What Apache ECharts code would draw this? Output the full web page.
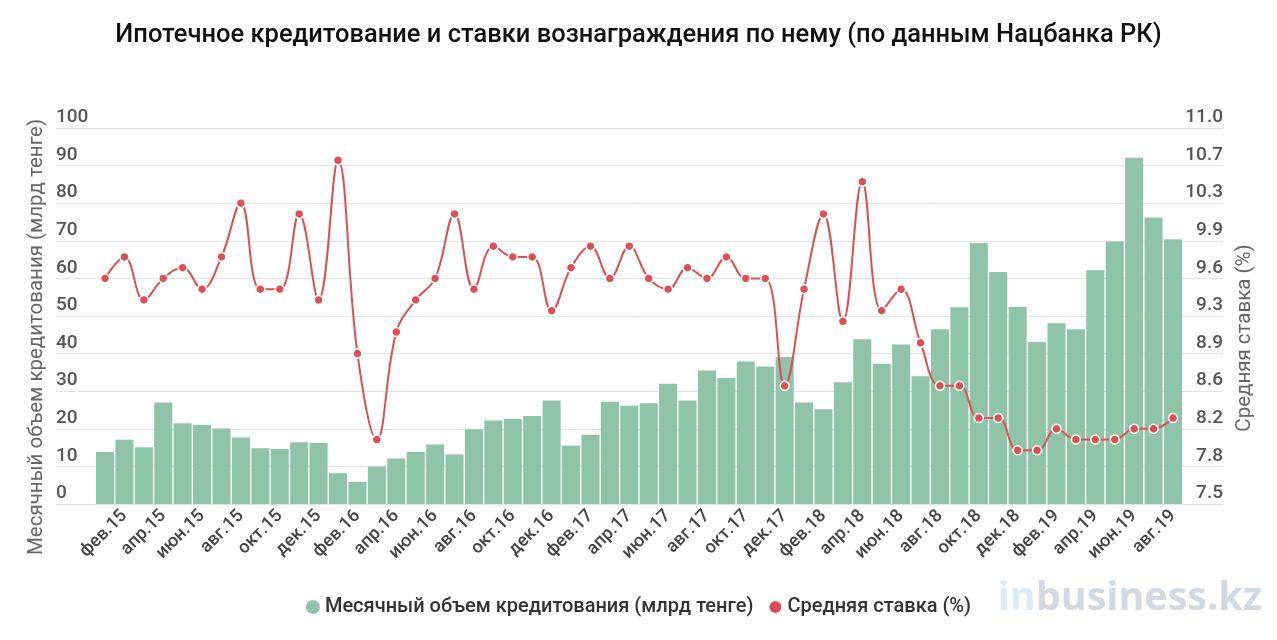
<!DOCTYPE html>
<html>
<head>
<meta charset="utf-8">
<script src="https://cdn.jsdelivr.net/npm/echarts@6/dist/echarts.min.js"></script>
<style>html,body{margin:0;padding:0;background:#fff}#c{width:1277px;height:640px}</style>
</head>
<body>
<div id="c"></div>
<script>
var categories = [
 'янв.15','фев.15','мар.15','апр.15','май.15','июн.15','июл.15','авг.15','сен.15','окт.15','ноя.15','дек.15',
 'янв.16','фев.16','мар.16','апр.16','май.16','июн.16','июл.16','авг.16','сен.16','окт.16','ноя.16','дек.16',
 'янв.17','фев.17','мар.17','апр.17','май.17','июн.17','июл.17','авг.17','сен.17','окт.17','ноя.17','дек.17',
 'янв.18','фев.18','мар.18','апр.18','май.18','июн.18','июл.18','авг.18','сен.18','окт.18','ноя.18','дек.18',
 'янв.19','фев.19','мар.19','апр.19','май.19','июн.19','июл.19','авг.19'
];
var volume = [
 13.8,17.1,15.1,27.0,21.5,21.0,20.1,17.7,14.8,14.6,16.4,16.2,
 8.2,5.9,10.0,12.1,13.8,15.8,13.2,19.9,22.2,22.6,23.4,27.5,
 15.5,18.4,27.2,26.1,26.8,32.0,27.5,35.5,33.5,37.9,36.6,39.1,
 27.0,25.2,32.4,43.8,37.3,42.4,34.0,46.5,52.3,69.4,61.7,52.4,
 43.1,48.1,46.5,62.2,69.8,92.1,76.2,70.4
];
var rate = [
 9.6,9.8,9.4,9.6,9.7,9.5,9.8,10.3,9.5,9.5,10.2,9.4,
 10.7,8.9,8.1,9.1,9.4,9.6,10.2,9.5,9.9,9.8,9.8,9.3,
 9.7,9.9,9.6,9.9,9.6,9.5,9.7,9.6,9.8,9.6,9.6,8.6,
 9.5,10.2,9.2,10.5,9.3,9.5,9.0,8.6,8.6,8.3,8.3,8.0,
 8.0,8.2,8.1,8.1,8.1,8.2,8.2,8.3
];
var rateTickLabels = ['7.5','7.8','8.2','8.6','8.9','9.3','9.6','9.9','10.3','10.7','11.0'];
var volumeName = 'Месячный объем кредитования (млрд тенге)';
var rateName = 'Средняя ставка (%)';
var titleText = 'Ипотечное кредитование и ставки вознаграждения по нему (по данным Нацбанка РК)';

var FONT = 'Roboto, "Noto Sans", sans-serif';
var chart = echarts.init(document.getElementById('c'), null, {renderer: 'canvas'});
var option = {
  backgroundColor: '#fff',
  animation: false,
  title: {
    text: titleText, left: 'center', top: 18,
    textStyle: {fontFamily: FONT, fontSize: 25.5, fontWeight: 500, color: '#111'}
  },
  legend: {
    bottom: 18, left: 'center', itemGap: 14,
    icon: 'circle', itemWidth: 14, itemHeight: 14,
    textStyle: {fontFamily: FONT, fontSize: 20, fontWeight: 500, color: '#333'},
    data: [volumeName, rateName]
  },
  grid: [
    {left: 56, right: 54, top: 128, bottom: 136},
    {left: 95.3, right: 94.3, top: 128, bottom: 136}
  ],
  xAxis: [
    {type: 'value', gridIndex: 0, show: false, min: 0, max: 1},
    {
      type: 'category', gridIndex: 1, data: categories,
      axisLine: {show: false}, axisTick: {show: false},
      axisLabel: {
        interval: function (i) { return i % 2 === 1; },
        rotate: 45, margin: 9,
        fontFamily: FONT, fontSize: 18, fontWeight: 500, color: '#444'
      }
    }
  ],
  yAxis: [
    {
      type: 'value', gridIndex: 0, position: 'left', min: 0, max: 100, interval: 10,
      axisLine: {show: false}, axisTick: {show: false},
      splitLine: {lineStyle: {color: '#e3e3e3', width: 1}},
      axisLabel: {inside: true, margin: 0, align: 'left', verticalAlign: 'bottom', padding: [0, 0, 1, 0],
        fontFamily: FONT, fontSize: 19, fontWeight: 500, color: '#555'}
    },
    {
      type: 'value', gridIndex: 0, position: 'right', min: 7.5, max: 11, interval: 0.35,
      axisLine: {show: false}, axisTick: {show: false}, splitLine: {show: false},
      axisLabel: {inside: true, margin: 0, align: 'right', verticalAlign: 'bottom', padding: [0, 0, 1, 0],
        fontFamily: FONT, fontSize: 19, fontWeight: 500, color: '#555',
        formatter: function (v, i) { return rateTickLabels[i]; }}
    },
    {type: 'value', gridIndex: 1, min: 0, max: 100, show: false, splitLine: {show: false}},
    {type: 'value', gridIndex: 1, min: 7.5, max: 11, show: false, splitLine: {show: false}}
  ],
  graphic: [
    {type: 'text', rotation: Math.PI / 2, silent: true, x: 37, y: 337,
      style: {text: volumeName, fontFamily: FONT, fontSize: 20.5, fill: '#666', textAlign: 'center', textVerticalAlign: 'middle'}},
    {type: 'text', rotation: Math.PI / 2, silent: true, x: 1245, y: 338,
      style: {text: rateName, fontFamily: FONT, fontSize: 20.5, fill: '#666', textAlign: 'center', textVerticalAlign: 'middle'}},
    {type: 'text', silent: true, right: 15, top: 579,
      style: {text: '{a|in}{b|business.kz}', rich: {
        a: {fontFamily: '"Open Sans", sans-serif', fontSize: 39.5, fontWeight: 700, fill: '#d8ecf8'},
        b: {fontFamily: '"Open Sans", sans-serif', fontSize: 39.5, fontWeight: 700, fill: '#d3d9e3'}
      }}}
  ],
  series: [
    {
      name: volumeName, type: 'bar', xAxisIndex: 1, yAxisIndex: 2, data: volume,
      barCategoryGap: '7%',
      itemStyle: {color: '#8fc4a8'}, z: 2
    },
    {
      name: rateName, type: 'line', xAxisIndex: 1, yAxisIndex: 3, data: rate,
      smooth: 0.4, symbol: 'circle', symbolSize: 9,
      lineStyle: {color: '#dd4f52', width: 2},
      itemStyle: {color: '#dd4f52', borderColor: '#fff', borderWidth: 1.5}, z: 3
    }
  ]
};
chart.setOption(option);
</script>
</body>
</html>
